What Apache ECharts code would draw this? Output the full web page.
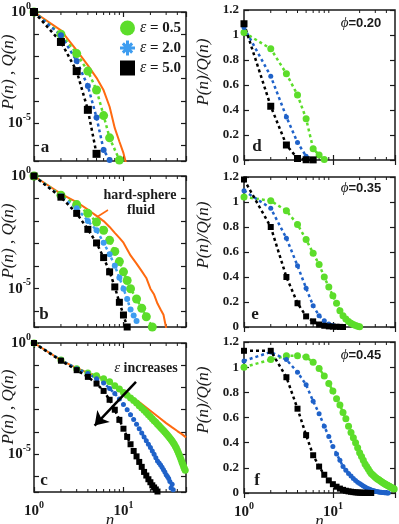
<!DOCTYPE html>
<html>
<head>
<meta charset="utf-8">
<script src="https://cdn.jsdelivr.net/npm/echarts@6/dist/echarts.min.js"></script>
<style>
html, body { margin: 0; padding: 0; background: #fff; }
#chart { width: 399px; height: 524px; }
</style>
</head>
<body>
<div id="chart"></div>
<script>
const seq = (a, b) => { const r = []; for (let i = a; i <= b; i++) r.push(i); return r; };

// legend names
const EPS = ['ε = 0.5', 'ε = 2.0', 'ε = 5.0'];
const PHI = ['0.20', '0.35', '0.45'];

// ---- panel a : P(n), Q(n) at phi = 0.20
const aGreenN = [1, 2, 3, 4, 5, 6, 7, 9];
const aGreenP = [1, 0.1, 0.0135, 2.2e-3, 3.1e-4, 2.2e-5, 2.2e-6, 2.2e-7];
const aBlueN = seq(1, 7);
const aBlueP = [1, 0.09, 6.3e-3, 4.7e-4, 1.8e-5, 6.3e-7, 2.2e-7];
const aBlackN = seq(1, 5);
const aBlackP = [1, 0.045, 2.2e-3, 4e-5, 4.2e-7];
const aHsN = seq(1, 11);
const aHsQ = [1, 0.15, 0.019, 4e-3, 1.1e-3, 3e-4, 5.5e-5, 6e-6, 1.5e-6, 4.5e-7, 1e-7];

// ---- panel b : phi = 0.35
const bGreenN = [1, 2, 3, 4, 5, 6, 7, 8, 9, 10, 11, 12, 14, 16, 18, 21];
const bGreenP = [1, 0.14, 0.054, 0.022, 9e-3, 3.9e-3, 1.4e-3, 4.5e-4, 1.6e-4, 5.6e-5, 2.3e-5, 1e-5, 3.5e-6, 1.35e-6, 5.7e-7, 2e-7];
const bBlueN = seq(1, 14);
const bBlueP = [1, 0.125, 0.037, 0.0102, 3.9e-3, 1.1e-3, 3.4e-4, 1.05e-4, 3.1e-5, 1e-5, 3.5e-6, 1.2e-6, 6.5e-7, 3.7e-7];
const bBlackN = seq(1, 11);
const bBlackP = [1, 0.115, 0.022, 4.3e-3, 1.07e-3, 2.4e-4, 5.6e-5, 1.2e-5, 2.5e-6, 6.8e-7, 2e-7];
const bHsN = [1, 2, 3, 4, 5, 6, 7, 8, 9, 10, 12, 14, 16, 18, 20, 22, 24, 26, 28, 30, 31];
const bHsQ = [1, 0.16, 0.07, 0.032, 0.017, 0.01, 5.5e-3, 3e-3, 1.8e-3, 1.1e-3, 3e-4, 1.3e-4, 6e-5, 3e-5, 1e-5, 5.5e-6, 2.2e-6, 1.2e-6, 7e-7, 1.8e-7, 1e-7];

// ---- panel c : phi = 0.45
const cGreenN = seq(1, 49);
const cGreenP = [1, 0.17, 0.07, 0.045, 0.034, 0.025, 0.018, 0.012, 0.0085, 0.006,
  0.0045, 0.0034, 0.0026, 0.002, 0.0015, 0.0012, 9.5e-4, 7.5e-4, 6e-4, 4.8e-4,
  3.9e-4, 3.2e-4, 2.7e-4, 2.2e-4, 1.9e-4, 1.6e-4, 1.35e-4, 1.15e-4, 1e-4, 8.5e-5,
  7.3e-5, 6.3e-5, 5.4e-5, 4.6e-5, 3.9e-5, 3.3e-5, 2.8e-5, 2.3e-5, 1.9e-5, 1.5e-5,
  1.2e-5, 9.5e-6, 7.5e-6, 5.8e-6, 4.5e-6, 3.5e-6, 2.8e-6, 2.3e-6, 1.9e-6];
const cBlueN = seq(1, 36);
const cBlueP = [1, 0.17, 0.07, 0.043, 0.025, 0.016, 9e-3, 5.3e-3, 3e-3, 1.7e-3,
  1e-3, 6e-4, 3.6e-4, 2.2e-4, 1.4e-4, 9e-5, 6e-5, 4e-5, 2.8e-5, 2e-5,
  1.4e-5, 1e-5, 7e-6, 5e-6, 4e-6, 3.3e-6, 2.6e-6, 2e-6, 1.6e-6, 1.2e-6,
  1e-6, 8e-7, 6e-7, 3e-7, 4.5e-7, 2.5e-7];
const cBlackN = seq(1, 24);
const cBlackP = [1, 0.16, 0.06, 0.03, 0.015, 7e-3, 2.8e-3, 1e-3, 3.5e-4, 1.4e-4,
  6e-5, 2.8e-5, 1.4e-5, 8e-6, 4.5e-6, 2.7e-6, 1.6e-6, 1.1e-6, 7.5e-7, 5.5e-7,
  4e-7, 3.2e-7, 2.6e-7, 2.1e-7];
const cHsN = [1, 2, 3, 4, 5, 6, 8, 10, 12, 15, 20, 25, 30, 35, 40, 45, 48, 50];
const cHsQ = [1, 0.17, 0.075, 0.045, 0.032, 0.024, 0.013, 0.0065, 0.004, 0.0022, 9e-4, 4.5e-4, 2.5e-4, 1.6e-4, 1.1e-4, 8e-5, 6.5e-5, 5.7e-5];

// ---- panel d : P/Q at phi = 0.20
const dGreenN = seq(1, 8);
const dGreenR = [1.02, 0.89, 0.69, 0.52, 0.33, 0.09, 0.04, 0.005];
const dBlueN = seq(1, 6);
const dBlueR = [1.06, 0.67, 0.345, 0.14, 0.03, 0.003];
const dBlackN = seq(1, 6);
const dBlackR = [1.09, 0.43, 0.12, 0.012, 0.002, 0.001];

// ---- panel e : phi = 0.35
const eGreenN = seq(1, 20);
const eGreenR = [1.04, 1.01, 0.93, 0.82, 0.70, 0.59, 0.50, 0.40, 0.32, 0.25, 0.19, 0.13, 0.09, 0.065, 0.045, 0.03, 0.02, 0.012, 0.006, 0.002];
const eBlueN = seq(1, 13);
const eBlueR = [1.09, 0.95, 0.71, 0.49, 0.31, 0.17, 0.09, 0.05, 0.025, 0.012, 0.005, 0.002, 0.001];
const eBlackN = seq(1, 13);
const eBlackR = [1.18, 0.80, 0.40, 0.19, 0.085, 0.045, 0.02, 0.01, 0.005, 0.003, 0.002, 0.001, 0];

// ---- panel f : phi = 0.45
const fGreenN = seq(1, 49);
const fGreenR = [1.00, 1.06, 1.09, 1.09, 1.08, 1.04, 0.99, 0.93, 0.87, 0.81,
  0.75, 0.70, 0.64, 0.59, 0.53, 0.48, 0.44, 0.40, 0.36, 0.32,
  0.29, 0.26, 0.23, 0.21, 0.19, 0.17, 0.155, 0.145, 0.135, 0.125,
  0.118, 0.11, 0.105, 0.098, 0.092, 0.086, 0.08, 0.075, 0.07, 0.066,
  0.062, 0.058, 0.054, 0.05, 0.046, 0.042, 0.038, 0.035, 0.032];
const fBlueN = seq(1, 42);
const fBlueR = [1.05, 1.12, 1.06, 0.96, 0.86, 0.73, 0.63, 0.53, 0.45, 0.37,
  0.31, 0.26, 0.21, 0.18, 0.155, 0.135, 0.115, 0.10, 0.085, 0.075,
  0.065, 0.055, 0.048, 0.04, 0.034, 0.029, 0.024, 0.02, 0.017, 0.014,
  0.012, 0.01, 0.008, 0.006, 0.005, 0.004, 0.003, 0.002, 0.001, 0.001, 0, 0];
const fBlackN = seq(1, 27);
const fBlackR = [1.13, 1.13, 0.92, 0.67, 0.46, 0.30, 0.21, 0.145, 0.10, 0.07,
  0.05, 0.035, 0.025, 0.018, 0.013, 0.01, 0.007, 0.005, 0.004, 0.003,
  0.002, 0.002, 0.001, 0.001, 0.001, 0, 0];

// minor ticks of the log n axis
const minorN = [2, 3, 4, 5, 6, 7, 8, 9, 20, 30, 40];

const SERIF = '"Liberation Serif", "DejaVu Serif", serif';
const SANS = '"Liberation Sans", Arial, sans-serif';
const GREEN = '#5cdd2a', BLUE = '#1f62c9', BLUE_LT = '#3e9df0', ORANGE = '#ff6a10', INK = '#1a1a1a';
const P_MIN = 2e-7;

const grids = [
  { left: 34, top: 12, width: 152, height: 149 },
  { left: 34, top: 176, width: 152, height: 151 },
  { left: 34, top: 343, width: 152, height: 149 },
  { left: 244, top: 10, width: 151, height: 150 },
  { left: 244, top: 177, width: 151, height: 150 },
  { left: 244, top: 342, width: 151, height: 151 }
].map(g => Object.assign(g, {
  show: true, borderColor: INK, borderWidth: 1.5, backgroundColor: 'transparent',
  containLabel: false, outerBoundsMode: 'none'
}));

const supRich = {
  b: { fontFamily: SERIF, fontWeight: 'bold', fontSize: 15, color: INK },
  s: { fontFamily: SERIF, fontWeight: 'bold', fontSize: 10, color: INK, padding: [0, 0, 12, 0] }
};
const near = (v, t) => Math.abs(Math.log10(v) - Math.log10(t)) < 0.01;
const tick = { show: true, inside: true, length: 5, lineStyle: { color: INK, width: 1.2 } };

const xAxes = [], yAxes = [];
for (let i = 0; i < 6; i++) {
  const bottomRow = (i === 2 || i === 5);
  xAxes.push({
    type: 'log', gridIndex: i, min: 1, max: 50,
    axisLine: { show: false }, splitLine: { show: false }, axisTick: tick,
    axisLabel: {
      show: bottomRow, margin: 8, hideOverlap: false, rich: supRich,
      formatter: v => near(v, 1) ? '{b|10}{s|0}' : (near(v, 10) ? '{b|10}{s|1}' : '')
    },
    name: bottomRow ? 'n' : '', nameLocation: 'middle', nameGap: 20, nameMoveOverlap: false,
    nameTextStyle: { fontFamily: SERIF, fontStyle: 'italic', fontSize: 17, color: INK }
  });
}
for (let i = 0; i < 6; i++) {
  xAxes.push({
    type: 'log', gridIndex: i, min: 1, max: 50, position: 'top',
    axisLine: { show: false }, splitLine: { show: false }, axisTick: tick, axisLabel: { show: false }
  });
}
for (let i = 0; i < 6; i++) {
  if (i < 3) {
    yAxes.push({
      type: 'log', gridIndex: i, min: P_MIN, max: 1,
      axisLine: { show: false }, splitLine: { show: false }, axisTick: tick,
      axisLabel: {
        margin: 3, rich: supRich, hideOverlap: false,
        formatter: v => near(v, 1) ? '{b|10}{s|0}' : (near(v, 1e-5) ? '{b|10}{s|-5}' : '')
      }
    });
  } else {
    yAxes.push({
      type: 'value', gridIndex: i, min: 0, max: 1.2, interval: 0.2,
      axisLine: { show: false }, splitLine: { show: false }, axisTick: tick,
      axisLabel: {
        margin: 5, fontFamily: SERIF, fontWeight: 'bold', fontSize: 13, color: INK,
        formatter: v => String(+v.toFixed(1))
      }
    });
  }
}
for (let i = 0; i < 6; i++) {
  const base = i < 3 ? { type: 'log', min: P_MIN, max: 1 } : { type: 'value', min: 0, max: 1.2, interval: 0.2 };
  yAxes.push(Object.assign(base, {
    gridIndex: i, position: 'right',
    axisLine: { show: false }, splitLine: { show: false }, axisTick: tick, axisLabel: { show: false }
  }));
}

const pts = (ns, vs) => ns.map((n, k) => [n, vs[k]]);

function dotted(name, i, ns, vs, color, symbol, size) {
  return {
    name, type: 'line', xAxisIndex: i, yAxisIndex: i, data: pts(ns, vs),
    symbol, symbolSize: size, showAllSymbol: true, z: 3,
    itemStyle: { color }, lineStyle: { color, width: 2.5, type: [3, 3] }
  };
}
function solid(i, ns, vs) {
  return {
    name: 'hard-sphere', type: 'line', xAxisIndex: i, yAxisIndex: i, data: pts(ns, vs),
    symbol: 'none', z: 2, lineStyle: { color: ORANGE, width: 2 }
  };
}
function minorTicks(i, yMin, yMax) {
  return {
    type: 'custom', xAxisIndex: i, yAxisIndex: i, silent: true, z: 1,
    data: minorN.map(n => [n, yMin]),
    renderItem: (params, api) => {
      const n = api.value(0);
      const b = api.coord([n, yMin]), t = api.coord([n, yMax]);
      const st = { stroke: INK, lineWidth: 1 };
      return {
        type: 'group', children: [
          { type: 'line', shape: { x1: b[0], y1: b[1], x2: b[0], y2: b[1] - 3 }, style: st },
          { type: 'line', shape: { x1: t[0], y1: t[1], x2: t[0], y2: t[1] + 3 }, style: st }
        ]
      };
    }
  };
}

const cBlack = dotted(EPS[2], 2, cBlackN, cBlackP, '#000', 'rect', 6);
cBlack.markLine = {
  silent: true, symbol: ['none', 'arrow'], symbolSize: 13,
  lineStyle: { color: '#000', width: 2.5, type: 'solid' }, label: { show: false },
  data: [[{ coord: [13.8, 0.0178] }, { coord: [4.76, 1.95e-4] }]]
};

const series = [
  solid(0, aHsN, aHsQ),
  dotted(EPS[0], 0, aGreenN, aGreenP, GREEN, 'circle', 9),
  dotted(EPS[1], 0, aBlueN, aBlueP, BLUE, 'circle', 6),
  dotted(EPS[2], 0, aBlackN, aBlackP, '#000', 'rect', 8),

  solid(1, bHsN, bHsQ),
  dotted(EPS[0], 1, bGreenN, bGreenP, GREEN, 'circle', 9),
  dotted(EPS[1], 1, bBlueN, bBlueP, BLUE_LT, 'circle', 6),
  dotted(EPS[2], 1, bBlackN, bBlackP, '#000', 'rect', 7),

  solid(2, cHsN, cHsQ),
  dotted(EPS[0], 2, cGreenN, cGreenP, GREEN, 'circle', 7),
  dotted(EPS[1], 2, cBlueN, cBlueP, BLUE, 'circle', 5),
  cBlack,

  dotted(EPS[0], 3, dGreenN, dGreenR, GREEN, 'circle', 7),
  dotted(EPS[1], 3, dBlueN, dBlueR, BLUE, 'circle', 5),
  dotted(EPS[2], 3, dBlackN, dBlackR, '#000', 'rect', 7),

  dotted(EPS[0], 4, eGreenN, eGreenR, GREEN, 'circle', 7),
  dotted(EPS[1], 4, eBlueN, eBlueR, BLUE, 'circle', 5),
  dotted(EPS[2], 4, eBlackN, eBlackR, '#000', 'rect', 6),

  dotted(EPS[0], 5, fGreenN, fGreenR, GREEN, 'circle', 7),
  dotted(EPS[1], 5, fBlueN, fBlueR, BLUE, 'circle', 5),
  dotted(EPS[2], 5, fBlackN, fBlackR, '#000', 'rect', 6)
];
for (let i = 0; i < 6; i++) series.push(i < 3 ? minorTicks(i, P_MIN, 1) : minorTicks(i, 0, 1.2));

const STAR = 'path://M0,4 L10,4 L10,6 L0,6 Z M4,0 L6,0 L6,10 L4,10 Z M1.2,2.6 L2.6,1.2 L8.8,7.4 L7.4,8.8 Z M7.4,1.2 L8.8,2.6 L2.6,8.8 L1.2,7.4 Z';

function txt(x, y, text, font, extra) {
  return { type: 'text', x, y, silent: true, style: Object.assign({ text, font, fill: INK, align: 'center', verticalAlign: 'middle' }, extra || {}) };
}
const yTitle = (x, y, text) => Object.assign(txt(x, y, text, 'italic 17px ' + SERIF), { rotation: Math.PI / 2 });
const phiLabel = (x, y, v) => ({
  type: 'text', x, y, silent: true,
  style: {
    text: '{p|ϕ}{t|=' + v + '}', align: 'center', verticalAlign: 'middle',
    rich: {
      p: { fontFamily: SERIF, fontStyle: 'italic', fontSize: 15, fill: INK },
      t: { fontFamily: SANS, fontWeight: 'bold', fontSize: 13, fill: INK }
    }
  }
});
const LETTER = 'bold 17px ' + SERIF;

const graphic = [
  yTitle(9, 72, 'P(n) , Q(n)'),
  yTitle(9, 241, 'P(n) , Q(n)'),
  yTitle(9, 407, 'P(n) , Q(n)'),
  yTitle(204, 72, 'P(n)/Q(n)'),
  yTitle(204, 235, 'P(n)/Q(n)'),
  yTitle(204, 400, 'P(n)/Q(n)'),
  txt(45, 148, 'a', LETTER), txt(44, 315, 'b', LETTER), txt(44, 481, 'c', LETTER),
  txt(257, 147, 'd', LETTER), txt(255, 315, 'e', LETTER), txt(257, 481, 'f', LETTER),
  phiLabel(361, 23, PHI[0]), phiLabel(361, 188, PHI[1]), phiLabel(361, 355, PHI[2]),
  txt(140, 195, 'hard-sphere', 'bold 14px ' + SERIF),
  txt(141, 210, 'fluid', 'bold 14px ' + SERIF),
  { type: 'line', silent: true, shape: { x1: 97, y1: 217, x2: 108, y2: 210 }, style: { stroke: ORANGE, lineWidth: 1.5 } },
  {
    type: 'text', x: 146, y: 368, silent: true,
    style: {
      text: '{e|ε} {t|increases}', align: 'center', verticalAlign: 'middle',
      rich: {
        e: { fontFamily: SERIF, fontStyle: 'italic', fontSize: 15, fill: INK },
        t: { fontFamily: SERIF, fontWeight: 'bold', fontSize: 14, fill: INK }
      }
    }
  }
];

const chart = echarts.init(document.getElementById('chart'), null, { renderer: 'canvas' });
chart.setOption({
  animation: false,
  backgroundColor: '#fff',
  grid: grids,
  xAxis: xAxes,
  yAxis: yAxes,
  legend: {
    data: [
      { name: EPS[0], icon: 'circle' },
      { name: EPS[1], icon: STAR, itemStyle: { color: BLUE_LT } },
      { name: EPS[2], icon: 'rect' }
    ],
    orient: 'vertical', left: 115, top: 15, itemWidth: 15, itemHeight: 15, itemGap: 4,
    selectedMode: false,
    formatter: name => '{e|ε}{t| = ' + name.split('= ')[1] + '}',
    textStyle: {
      rich: {
        e: { fontFamily: SERIF, fontStyle: 'italic', fontSize: 16, color: INK },
        t: { fontFamily: SERIF, fontWeight: 'bold', fontSize: 15, color: INK }
      }
    }
  },
  graphic,
  series
});
</script>
</body>
</html>
